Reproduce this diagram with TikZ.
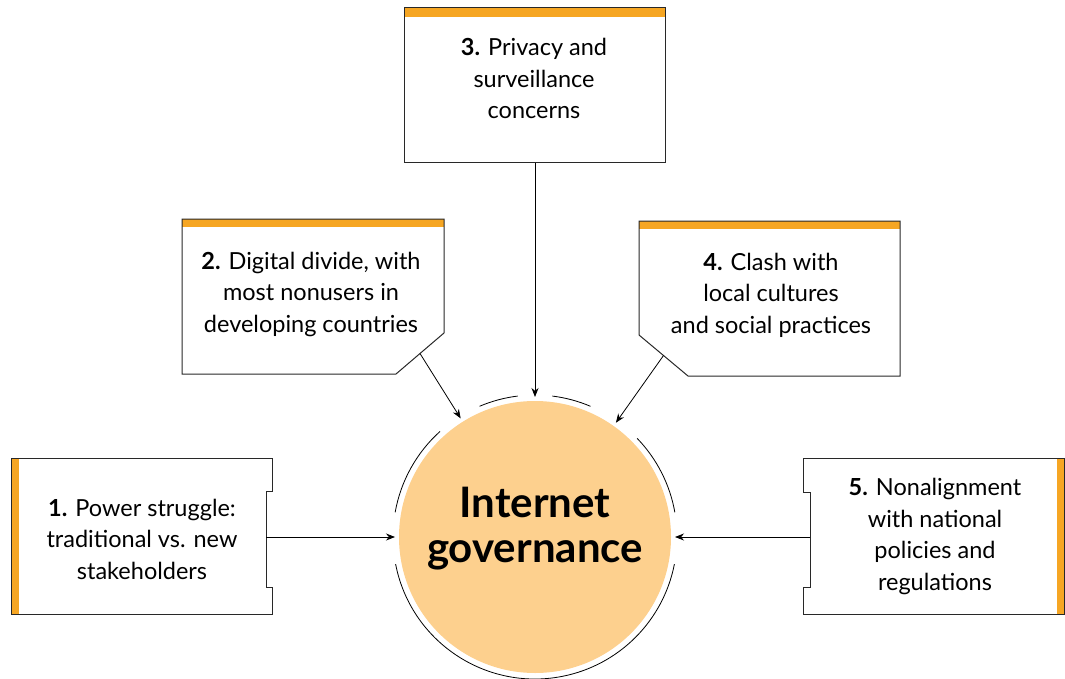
\documentclass[tikz,border=0pt]{standalone}
\usepackage{fontspec}
\setmainfont{Lato}
\usetikzlibrary{arrows.meta}
\definecolor{barorange}{RGB}{246,166,35}
\definecolor{circfill}{RGB}{253,208,142}
\definecolor{edge}{RGB}{40,40,40}
\begin{document}
\begin{tikzpicture}[x=1pt,y=-1pt,
  boxline/.style={draw=edge, line width=1pt},
  bar/.style={fill=barorange},
  boxtext/.style={font=\fontsize{23.5}{31.5}\selectfont, align=center, anchor=base, inner sep=0pt},
  conn/.style={draw=black, line width=0.8pt, -{Stealth[length=9pt,width=7pt]}},
  ring/.style={draw=black, line width=0.8pt}]
\useasboundingbox (0,0) rectangle (1065,679);

% central circle
\node[circle, fill=circfill, minimum size=272pt, inner sep=0pt, outer sep=4pt] (gov) at (535,537) {};
\node[font=\fontsize{42}{45}\selectfont\bfseries, align=center, anchor=base, inner sep=0pt] (govtext) at (535,562) {Internet\\governance};

% ring arcs
\begin{scope}[shift={(gov.center)}, x=1pt, y=1pt]
  \draw[ring] (97:142) arc[start angle=97, end angle=113, radius=142pt];
  \draw[ring] (67:142) arc[start angle=67, end angle=83, radius=142pt];
  \draw[ring] (132:142) arc[start angle=132, end angle=170, radius=142pt];
  \draw[ring] (10:142) arc[start angle=10, end angle=44, radius=142pt];
  \draw[ring] (191:142) arc[start angle=191, end angle=349, radius=142pt];
\end{scope}

% box 1
\fill[bar] (11,458) rectangle (19,614);
\draw[boxline] (11,458) -- (272,458) -- (272,491) -- (266,491) -- (266,587) -- (272,587) -- (272,614) -- (11,614) -- cycle;
\coordinate (p1) at (266,537);
\node[boxtext] (t1) at (142,579) {\textbf{1.} Power struggle:\\traditional vs. new\\stakeholders};

% box 2
\fill[bar] (182,219) rectangle (444,227);
\draw[boxline] (182,219) -- (444,219) -- (444,333) -- (396,374) -- (182,374) -- cycle;
\coordinate (p2) at (420,353.5);
\node[boxtext] (t2) at (311,332) {\textbf{2.} Digital divide, with\\most nonusers in\\developing countries};

% box 3
\fill[bar] (404,8) rectangle (665,17);
\draw[boxline] (404,8) rectangle (665,163);
\coordinate (p3) at (535,163);
\node[boxtext] (t3) at (534,119) {\textbf{3.} Privacy and\\surveillance\\concerns};

% box 4
\fill[bar] (639,221) rectangle (900,229);
\draw[boxline] (639,221) -- (900,221) -- (900,376) -- (688,376) -- (639,335) -- cycle;
\coordinate (p4) at (663.5,355.5);
\node[boxtext] (t4) at (771,333) {\textbf{4.} Clash with\\local cultures\\and social practices};

% box 5
\fill[bar] (1057,458) rectangle (1064,614);
\draw[boxline] (803,458) -- (1064,458) -- (1064,614) -- (803,614) -- (803,587) -- (810,587) -- (810,492) -- (803,492) -- cycle;
\coordinate (p5) at (810,537);
\node[boxtext] (t5) at (935,590) {\textbf{5.} Nonalignment\\with national\\policies and\\regulations};

% connectors
\draw[conn] (p1) -- (gov.west);
\draw[conn] (p2) -- (gov);
\draw[conn] (p3) -- (gov.north);
\draw[conn] (p4) -- (gov);
\draw[conn] (p5) -- (gov.east);
\end{tikzpicture}
\end{document}
